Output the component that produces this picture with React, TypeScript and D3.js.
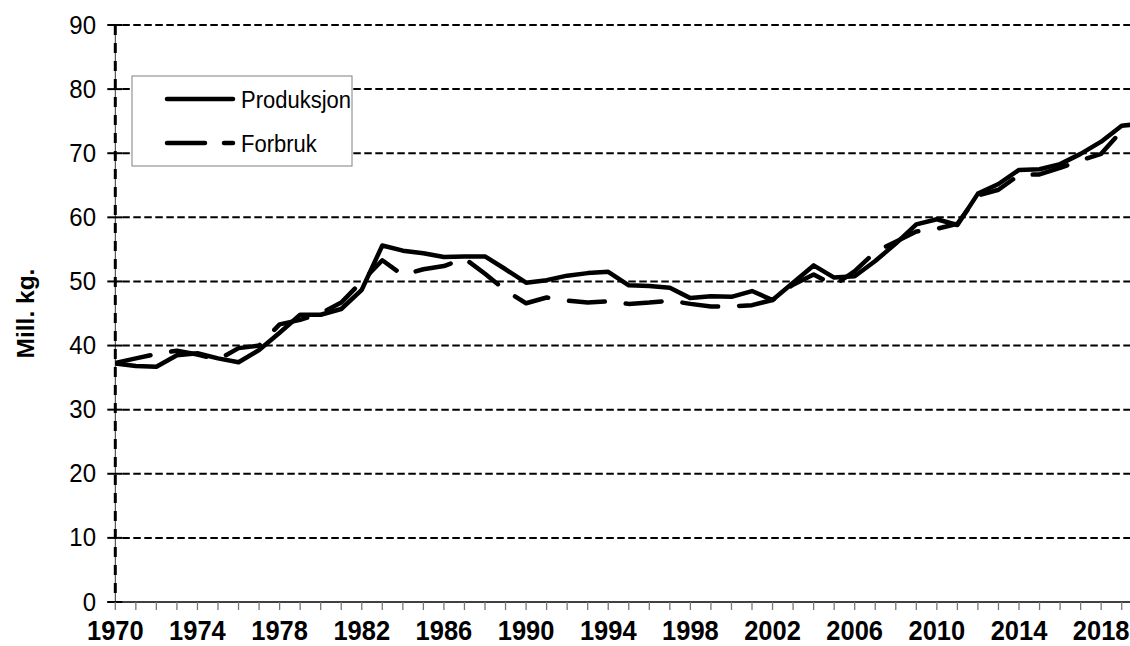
import React from "react";
import * as d3 from "d3";

const years: number[] = d3.range(1970, 2021);
const produksjon: number[] = [
  37.2, 36.8, 36.7, 38.5, 38.8, 38.0, 37.4, 39.3, 42.0, 44.8,
  44.8, 45.7, 48.7, 55.6, 54.8, 54.4, 53.8, 53.9, 53.9, 51.9,
  49.8, 50.2, 50.9, 51.3, 51.5, 49.4, 49.3, 49.0, 47.4, 47.7,
  47.6, 48.5, 47.1, 49.8, 52.5, 50.6, 50.8, 53.2, 55.9, 58.9,
  59.7, 58.8, 63.7, 65.2, 67.4, 67.5, 68.3, 69.9, 71.8, 74.3,
  74.6,
];
const forbruk: number[] = [
  37.3, 38.0, 38.7, 39.2, 38.6, 37.8, 39.6, 40.0, 43.3, 44.0,
  45.0, 46.7, 50.0, 53.3, 51.0, 51.9, 52.4, 53.6, 51.2, 48.6,
  46.6, 47.5, 47.0, 46.7, 46.9, 46.5, 46.7, 47.0, 46.5, 46.1,
  46.1, 46.3, 47.1, 49.5, 51.1, 49.4, 51.6, 54.6, 56.2, 57.8,
  58.2, 59.0, 63.4, 64.3, 66.6, 66.7, 67.7, 68.9, 69.9, 73.5,
  73.7,
];
const yTicks: number[] = [0, 10, 20, 30, 40, 50, 60, 70, 80, 90];
const xLabelYears: number[] = d3.range(1970, 2019, 4);
const seriesNames: string[] = ["Produksjon", "Forbruk"];
const yTitle = "Mill. kg.";

const W = 1130;
const H = 646;
const left = 115.3;
const right = 1130;
const top = 25;
const bottom = 602;

export default function App() {
  const x = d3.scaleLinear().domain([1970, 2019]).range([left, 1121.7]);
  const y = d3.scaleLinear().domain([0, 90]).range([bottom, top]);
  const line = d3
    .line<number>()
    .x((_, i) => x(years[i]))
    .y((d) => y(d));
  const font = "Liberation Sans, Arial, Helvetica, sans-serif";
  const tickYears = d3.range(1970, 2021).filter((yr) => x(yr) <= right);

  return (
    <svg
      width={W}
      height={H}
      style={{ position: "absolute", left: 0, top: 0, background: "#fff" }}
      fontFamily={font}
    >
      <defs>
        <clipPath id="plot">
          <rect x={left} y={0} width={right - left} height={H} />
        </clipPath>
      </defs>
      {/* horizontal gridlines */}
      {yTicks.map((t) =>
        t === 0 ? null : (
          <line
            key={"g" + t}
            x1={left + 7}
            x2={right}
            y1={y(t)}
            y2={y(t)}
            stroke="#000"
            strokeWidth={2}
            strokeDasharray="7.5,3.5"
          />
        )
      )}
      {/* y axis: thin solid + dashed thick */}
      <line x1={left} x2={left} y1={top} y2={bottom} stroke="#333" strokeWidth={1} />
      <line
        x1={left}
        x2={left}
        y1={top}
        y2={bottom}
        stroke="#000"
        strokeWidth={3}
        strokeDasharray="10,8"
      />
      {/* y ticks (cross) */}
      {yTicks.map((t) => (
        <line
          key={"yt" + t}
          x1={left - 8}
          x2={left + 7}
          y1={y(t)}
          y2={y(t)}
          stroke="#000"
          strokeWidth={2}
        />
      ))}
      {/* y tick labels */}
      {yTicks.map((t) => (
        <text
          key={"yl" + t}
          transform={`translate(96,${y(t) + 8.5}) scale(1,1.08)`}
          textAnchor="end"
          fontSize={24}
          fill="#000"
        >
          {t}
        </text>
      ))}
      {/* x axis */}
      <line x1={left - 8} x2={right} y1={bottom} y2={bottom} stroke="#000" strokeWidth={1.5} />
      {tickYears.map((yr) => (
        <line
          key={"xt" + yr}
          x1={x(yr)}
          x2={x(yr)}
          y1={bottom}
          y2={bottom + 8}
          stroke="#777"
          strokeWidth={1.3}
        />
      ))}
      {xLabelYears.map((yr) => (
        <text
          key={"xl" + yr}
          transform={`translate(${x(yr)},640) scale(1,1.05)`}
          textAnchor="middle"
          fontSize={25.5}
          fontWeight="bold"
          fill="#000"
        >
          {yr}
        </text>
      ))}
      {/* y title */}
      <text
        transform={`translate(34,${(top + bottom) / 2}) rotate(-90)`}
        textAnchor="middle"
        fontSize={24.5}
        fontWeight="bold"
        fill="#000"
      >
        {yTitle}
      </text>
      {/* series */}
      <g clipPath="url(#plot)">
        <path
          d={line(forbruk) || ""}
          fill="none"
          stroke="#000"
          strokeWidth={4.5}
          strokeLinecap="round"
          strokeLinejoin="round"
          strokeDasharray="36,21"
        />
        <path
          d={line(produksjon) || ""}
          fill="none"
          stroke="#000"
          strokeWidth={4.5}
          strokeLinecap="round"
          strokeLinejoin="round"
        />
      </g>
      {/* legend */}
      <rect x={132} y={76} width={220} height={90} fill="#fff" stroke="#808080" strokeWidth={1} />
      <line x1={167} x2={233} y1={99} y2={99} stroke="#000" strokeWidth={4.5} strokeLinecap="round" />
      <line
        x1={167}
        x2={233}
        y1={143}
        y2={143}
        stroke="#000"
        strokeWidth={4.5}
        strokeLinecap="round"
        strokeDasharray="38,19"
      />
      <text transform="translate(241,107.5) scale(1,1.1)" fontSize={22} fill="#000">
        {seriesNames[0]}
      </text>
      <text transform="translate(241,151.5) scale(1,1.1)" fontSize={22} fill="#000">
        {seriesNames[1]}
      </text>
    </svg>
  );
}
